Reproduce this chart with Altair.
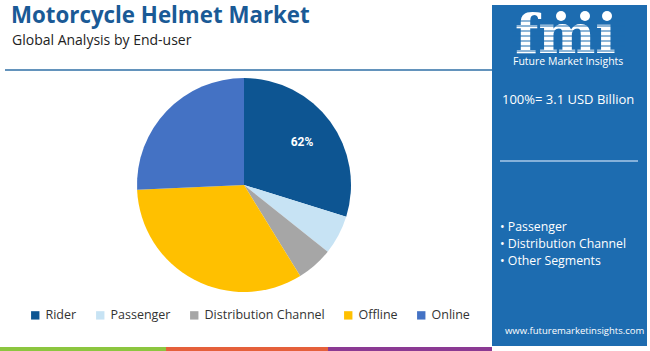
import altair as alt
import pandas as pd

# ---- data ----
categories = ["Rider", "Passenger", "Distribution Channel", "Offline", "Online"]
shares = [29.8, 5.9, 5.5, 33.1, 25.7]
slice_labels = ["62%", "", "", "", ""]
colors = ["#0d5592", "#c7e3f4", "#a6a6a6", "#ffc000", "#4472c4"]

title_text = "Motorcycle Helmet Market"
subtitle_text = "Global Analysis by End-user"
total_text = "100%= 3.1 USD Billion"
segments = ["• Passenger", "• Distribution Channel", "• Other Segments"]
url_text = "www.futuremarketinsights.com"

df = pd.DataFrame({"category": categories, "share": shares,
                   "label": slice_labels, "idx": list(range(len(categories)))})

FONT = "Open Sans"
PANEL = "#1d6cb0"
one = alt.Data(values=[{}])

W, H = 650, 351

color_scale = alt.Scale(domain=categories, range=colors)

pie = alt.Chart(df).mark_arc(stroke=None).encode(
    theta=alt.Theta("share:Q", stack=True),
    color=alt.Color("category:N", scale=color_scale, sort=categories,
                    legend=alt.Legend(title=None, orient="none", direction="horizontal",
                                      columns=5, legendX=29, legendY=309,
                                      symbolType="square", symbolSize=70,
                                      symbolStrokeWidth=0, labelFont=FONT,
                                      labelFontSize=12.5, labelColor="#333333",
                                      labelOffset=4, columnPadding=17, padding=0)),
    order=alt.Order("idx:Q"),
    x=alt.value(244), y=alt.value(185), radius=alt.value(107),
)

pie_text = alt.Chart(df).mark_text(font="Roboto", fontSize=12, fontWeight="bold",
                                   color="white").encode(
    theta=alt.Theta("share:Q", stack=True),
    order=alt.Order("idx:Q"),
    text="label:N",
    x=alt.value(244), y=alt.value(185), radius=alt.value(72),
)

def txt(s, x, y, size, color, weight="normal", font=FONT, align="left", baseline="middle"):
    return alt.Chart(one).mark_text(text=s, font=font, fontSize=size, fontWeight=weight,
                                    color=color, align=align, baseline=baseline).encode(
        x=alt.value(x), y=alt.value(y))

def rect(x1, x2, y1, y2, color):
    return alt.Chart(one).mark_rect(color=color).encode(
        x=alt.value(x1), x2=alt.value(x2), y=alt.value(y1), y2=alt.value(y2))

def hline(x1, x2, y, color, w=1.5):
    return alt.Chart(one).mark_rule(color=color, strokeWidth=w).encode(
        x=alt.value(x1), x2=alt.value(x2), y=alt.value(y))

layers = [
    # panel
    rect(492, 647, 5, 346, PANEL),
    # title area
    txt(title_text, 11, 16, 22.3, "#1a5a96", weight="bold"),
    txt(subtitle_text, 12, 41, 14, "#222222"),
    hline(5, 492, 70, "#2f6fa6", 1.5),
    # bottom stripes
    rect(0, 166, 347, 351, "#8cc63f"),
    rect(166, 328, 347, 351, "#e5603b"),
    rect(328, 492, 347, 351, "#8b3a93"),
    # logo
    txt("fmı", 515, 53, 54, "white", weight="bold", font="DejaVu Serif", baseline="alphabetic"),
]
for yy in [21, 26, 31, 36, 41, 46, 51]:
    layers.append(hline(512, 625, yy, PANEL, 1.2))
layers += [
    alt.Chart(one).mark_circle(color="white", opacity=1, size=100).encode(x=alt.value(561), y=alt.value(16)),
    alt.Chart(one).mark_circle(color="white", opacity=1, size=100).encode(x=alt.value(585), y=alt.value(16)),
    alt.Chart(one).mark_circle(color="white", opacity=1, size=100).encode(x=alt.value(607), y=alt.value(16)),
    txt("Future Market Insights", 513, 62, 10.5, "white"),
    txt(total_text, 502, 100, 13, "white"),
    hline(500, 638, 161, "#a8c8e8", 1.5),
    txt(segments[0], 500, 227, 12.3, "white"),
    txt(segments[1], 500, 244, 12.3, "white"),
    txt(segments[2], 500, 261, 12.3, "white"),
    txt(url_text, 505, 331, 9.5, "white"),
]

chart = alt.layer(pie, pie_text, *layers).properties(
    width=W, height=H, padding=0, autosize=alt.AutoSizeParams(type="none"),
    background="white"
).configure_view(stroke=None).resolve_scale(color="independent")

chart.save("out.html", embed_options={"renderer": "svg", "actions": False})
